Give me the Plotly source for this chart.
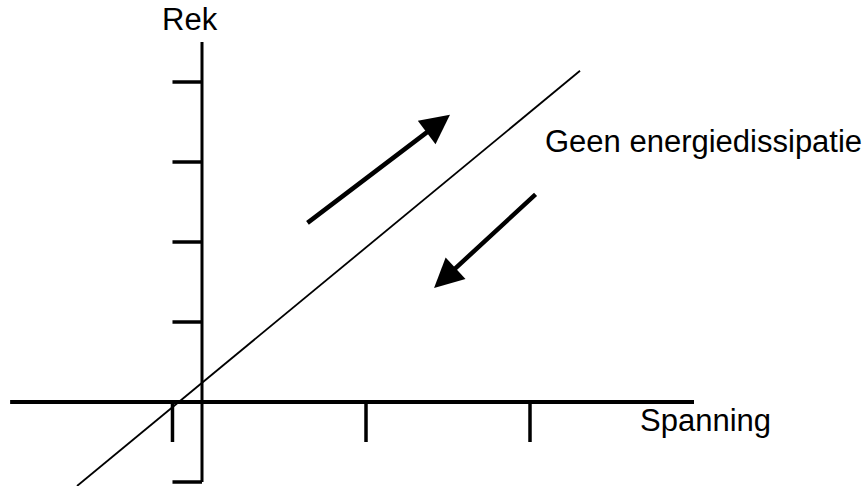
import plotly.graph_objects as go

# Conceptual diagram data (data units: 1 x-unit = one tick step, 1 y-unit = one tick step)
x_axis_x = [-1.17, 3.0]
x_axis_y = [0, 0]
y_axis_x = [0, 0]
y_axis_y = [-1.0, 4.5]
x_ticks = [-0.18, 1.0, 2.0]
x_tick_len = 0.5          # in y-units (downwards)
y_ticks = [-1.0, 1.0, 2.0, 3.0, 4.0]
y_tick_len = 0.18         # in x-units (leftwards)
line_x = [-0.762, 2.305]
line_y = [-1.05, 4.14]
arrow_up = dict(tail=(0.634, 2.225), head=(1.512, 3.59))
arrow_down = dict(tail=(2.043, 2.6125), head=(1.415, 1.425))
labels = {
    "Rek": (-0.073, 4.78),
    "Geen energiedissipatie": (2.08, 3.26),
    "Spanning": (2.66, -0.23),
}

fig = go.Figure()

def seg(xs, ys, w):
    fig.add_trace(go.Scatter(x=xs, y=ys, mode="lines",
                             line=dict(color="black", width=w),
                             hoverinfo="skip", showlegend=False))

seg(x_axis_x, x_axis_y, 4)
seg(y_axis_x, y_axis_y, 3)
for t in x_ticks:
    seg([t, t], [0, -x_tick_len], 3.5)
for t in y_ticks:
    seg([-y_tick_len, 0], [t, t], 3.5)
seg(line_x, line_y, 1.8)

for a in (arrow_up, arrow_down):
    fig.add_annotation(x=a["head"][0], y=a["head"][1], ax=a["tail"][0], ay=a["tail"][1],
                       xref="x", yref="y", axref="x", ayref="y", text="",
                       showarrow=True, arrowhead=2, arrowsize=1.3, arrowwidth=4.5,
                       arrowcolor="black")

font = dict(family="Liberation Sans, Arial, sans-serif", size=31, color="black")
fig.add_annotation(x=labels["Rek"][0], y=labels["Rek"][1], text="Rek", showarrow=False,
                   xanchor="center", yanchor="middle", font=font)
fig.add_annotation(x=labels["Geen energiedissipatie"][0], y=labels["Geen energiedissipatie"][1],
                   text="Geen energiedissipatie", showarrow=False,
                   xanchor="left", yanchor="middle", font=font)
fig.add_annotation(x=labels["Spanning"][0], y=labels["Spanning"][1], text="Spanning",
                   showarrow=False, xanchor="left", yanchor="middle", font=font)

fig.update_layout(
    width=868, height=486,
    margin=dict(l=0, r=0, t=0, b=0),
    paper_bgcolor="white", plot_bgcolor="white",
    xaxis=dict(range=[-202 / 164, 666 / 164], visible=False, fixedrange=True),
    yaxis=dict(range=[-84 / 80, 402 / 80], visible=False, fixedrange=True),
    showlegend=False,
)
fig.write_html("out.html",
               config={"displayModeBar": False, "staticPlot": True},
               post_script="document.body.style.margin='0';document.body.style.overflow='hidden';")
